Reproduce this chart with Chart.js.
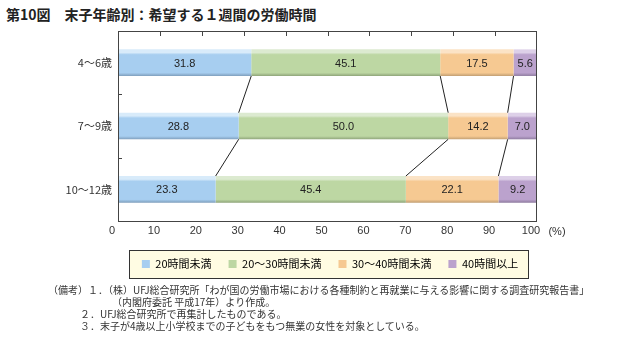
<!DOCTYPE html>
<html lang="ja">
<head>
<meta charset="utf-8">
<script src="https://cdn.jsdelivr.net/npm/chart.js@4"></script>
<style>
  body { margin:0; background:#fff; width:626px; height:339px; position:relative; overflow:hidden;
         font-family:"Noto Sans CJK JP","Noto Sans",sans-serif; color:#222; }
  #title { position:absolute; left:6px; top:4px; font-size:14px; font-weight:bold; white-space:nowrap; }
  #wrap { position:absolute; left:0; top:22px; width:626px; height:280px; }
  #notes { position:absolute; left:48px; top:284px; font-size:10px; line-height:12px; white-space:nowrap; color:#333; }
  #notes div { position:relative; }
</style>
</head>
<body>
<div id="title">第10図　末子年齢別：希望する１週間の労働時間</div>
<div id="wrap"><canvas id="chart"></canvas></div>
<div id="notes">
  <div>（備考）１．（株）UFJ総合研究所「わが国の労働市場における各種制約と再就業に与える影響に関する調査研究報告書」</div>
  <div style="left:64px">（内閣府委託 平成17年）より作成。</div>
  <div style="left:32px">２．UFJ総合研究所で再集計したものである。</div>
  <div style="left:32px">３．末子が4歳以上小学校までの子どもをもつ無業の女性を対象としている。</div>
</div>
<script>
const categories = ['4～6歳', '7～9歳', '10～12歳'];
const seriesNames = ['20時間未満', '20～30時間未満', '30～40時間未満', '40時間以上'];
const under20 = [31.8, 28.8, 23.3];
const from20to30 = [45.1, 50.0, 45.4];
const from30to40 = [17.5, 14.2, 22.1];
const over40 = [5.6, 7.0, 9.2];
const xTicks = [0, 10, 20, 30, 40, 50, 60, 70, 80, 90, 100];

const baseColors = ['#a7cef0', '#bdd7a3', '#f6c992', '#bba2cd'];
const lightColors = ['#d8ebfa', '#dcead0', '#fbe3c6', '#ddd0e8'];
const darkColors = ['#7f9fbd', '#8fa57a', '#c29f73', '#8f7ca0'];

const BAR_PCT = 0.42;

function barFill(ctx, k) {
  const chart = ctx.chart;
  const ys = chart.scales.y;
  if (!chart.chartArea || !ys) return baseColors[k];
  const cy = ys.getPixelForValue(ctx.dataIndex);
  const h = (ys.getPixelForValue(1) - ys.getPixelForValue(0)) * BAR_PCT;
  const g = chart.ctx.createLinearGradient(0, cy - h / 2, 0, cy + h / 2);
  g.addColorStop(0, lightColors[k]);
  g.addColorStop(0.12, lightColors[k]);
  g.addColorStop(0.2, baseColors[k]);
  g.addColorStop(0.88, baseColors[k]);
  g.addColorStop(1, darkColors[k]);
  return g;
}

const seriesData = [under20, from20to30, from30to40, over40];

// frame, inner ticks, connector lines, value labels
const decorate = {
  id: 'decorate',
  afterDatasetsDraw(chart) {
    const { ctx, chartArea: a, scales: { x, y } } = chart;
    ctx.save();
    ctx.strokeStyle = '#444';
    ctx.lineWidth = 1;
    ctx.strokeRect(a.left + 0.5, a.top + 0.5, a.right - a.left - 1, a.bottom - a.top);
    ctx.beginPath();
    xTicks.slice(1, -1).forEach(v => {
      const px = Math.round(x.getPixelForValue(v)) + 0.5;
      ctx.moveTo(px, a.top); ctx.lineTo(px, a.top + 5);
    });
    for (let i = 0; i < categories.length - 1; i++) {
      const py = Math.round(y.getPixelForValue(i + 0.5)) + 0.5;
      ctx.moveTo(a.left, py); ctx.lineTo(a.left + 4, py);
    }
    ctx.stroke();

    // connectors between cumulative boundaries
    const h = (y.getPixelForValue(1) - y.getPixelForValue(0)) * BAR_PCT;
    ctx.strokeStyle = '#222';
    ctx.beginPath();
    for (let k = 0; k < seriesData.length - 1; k++) {
      for (let i = 0; i < categories.length - 1; i++) {
        let c1 = 0, c2 = 0;
        for (let j = 0; j <= k; j++) { c1 += seriesData[j][i]; c2 += seriesData[j][i + 1]; }
        ctx.moveTo(x.getPixelForValue(c1), y.getPixelForValue(i) + h / 2);
        ctx.lineTo(x.getPixelForValue(c2), y.getPixelForValue(i + 1) - h / 2);
      }
    }
    ctx.stroke();

    // value labels
    ctx.fillStyle = '#222';
    ctx.font = '11px "Liberation Sans", Arial, sans-serif';
    ctx.textAlign = 'center';
    ctx.textBaseline = 'middle';
    chart.data.datasets.forEach((ds, k) => {
      chart.getDatasetMeta(k).data.forEach((bar, i) => {
        ctx.fillText(ds.data[i].toFixed(1), (bar.x + bar.base) / 2, bar.y + 1);
      });
    });

    // unit
    ctx.fillStyle = '#333';
    ctx.fillText('(%)', a.right + 20, a.bottom + 11);
    ctx.restore();
  }
};

// move legend under the plot and draw its box
const legendBox = {
  id: 'legendBox',
  afterUpdate(chart) {
    const lg = chart.legend;
    const hb = lg.legendHitBoxes;
    if (!hb.length) return;
    const last = hb[hb.length - 1];
    const dx = 330 - (hb[0].left + last.left + last.width) / 2;
    const dy = 242 - (hb[0].top + hb[0].height / 2);
    lg.left += dx; lg.right += dx; lg.top += dy; lg.bottom += dy;
    hb.forEach(h => { h.left += dx; h.top += dy; });
  },
  beforeDraw(chart) {
    const hb = chart.legend.legendHitBoxes;
    if (!hb.length) return;
    const last = hb[hb.length - 1];
    const x0 = Math.round(hb[0].left - 13), x1 = Math.round(last.left + last.width + 10);
    const cy = hb[0].top + hb[0].height / 2;
    const y0 = Math.round(cy - 14), y1 = Math.round(cy + 14);
    const ctx = chart.ctx;
    ctx.save();
    ctx.fillStyle = '#fffce3';
    ctx.fillRect(x0, y0, x1 - x0, y1 - y0);
    ctx.strokeStyle = '#333';
    ctx.lineWidth = 1;
    ctx.strokeRect(x0 + 0.5, y0 + 0.5, x1 - x0, y1 - y0);
    ctx.restore();
  }
};

new Chart(document.getElementById('chart'), {
  type: 'bar',
  data: {
    labels: categories,
    datasets: seriesData.map((d, k) => ({
      label: seriesNames[k],
      data: d,
      backgroundColor: ctx => barFill(ctx, k),
      borderWidth: 0,
      barPercentage: BAR_PCT,
      categoryPercentage: 1
    }))
  },
  options: {
    indexAxis: 'y',
    responsive: true,
    maintainAspectRatio: false,
    animation: false,
    layout: { padding: { top: 9, right: 89, left: 0, bottom: 21 } },
    scales: {
      x: {
        stacked: true, min: 0, max: 100,
        afterBuildTicks: s => { s.ticks = xTicks.map(v => ({ value: v })); },
        afterFit: s => { s.height = 22; s.paddingLeft = 0; s.paddingRight = 0; },
        grid: { display: false, drawTicks: false },
        border: { display: false },
        ticks: { color: '#333', padding: 3, labelOffset: -6, maxRotation: 0,
                 font: { family: '"Liberation Sans", Arial, sans-serif', size: 11 } }
      },
      y: {
        stacked: true,
        afterFit: s => { s.width = 118; s.paddingTop = 0; s.paddingBottom = 0; },
        grid: { display: false, drawTicks: false },
        border: { display: false },
        ticks: { color: '#333', padding: 6,
                 font: { family: '"Noto Sans CJK JP", sans-serif', size: 11 } }
      }
    },
    plugins: {
      tooltip: { enabled: false },
      legend: {
        position: 'bottom',
        labels: {
          color: '#222', boxWidth: 8, boxHeight: 8, padding: 17,
          font: { family: '"Noto Sans CJK JP", sans-serif', size: 11 },
          generateLabels: chart => seriesNames.map((n, k) => ({
            text: n, fillStyle: baseColors[k], strokeStyle: baseColors[k],
            lineWidth: 0, datasetIndex: k, hidden: false
          }))
        }
      }
    }
  },
  plugins: [legendBox, decorate]
});
</script>
</body>
</html>
